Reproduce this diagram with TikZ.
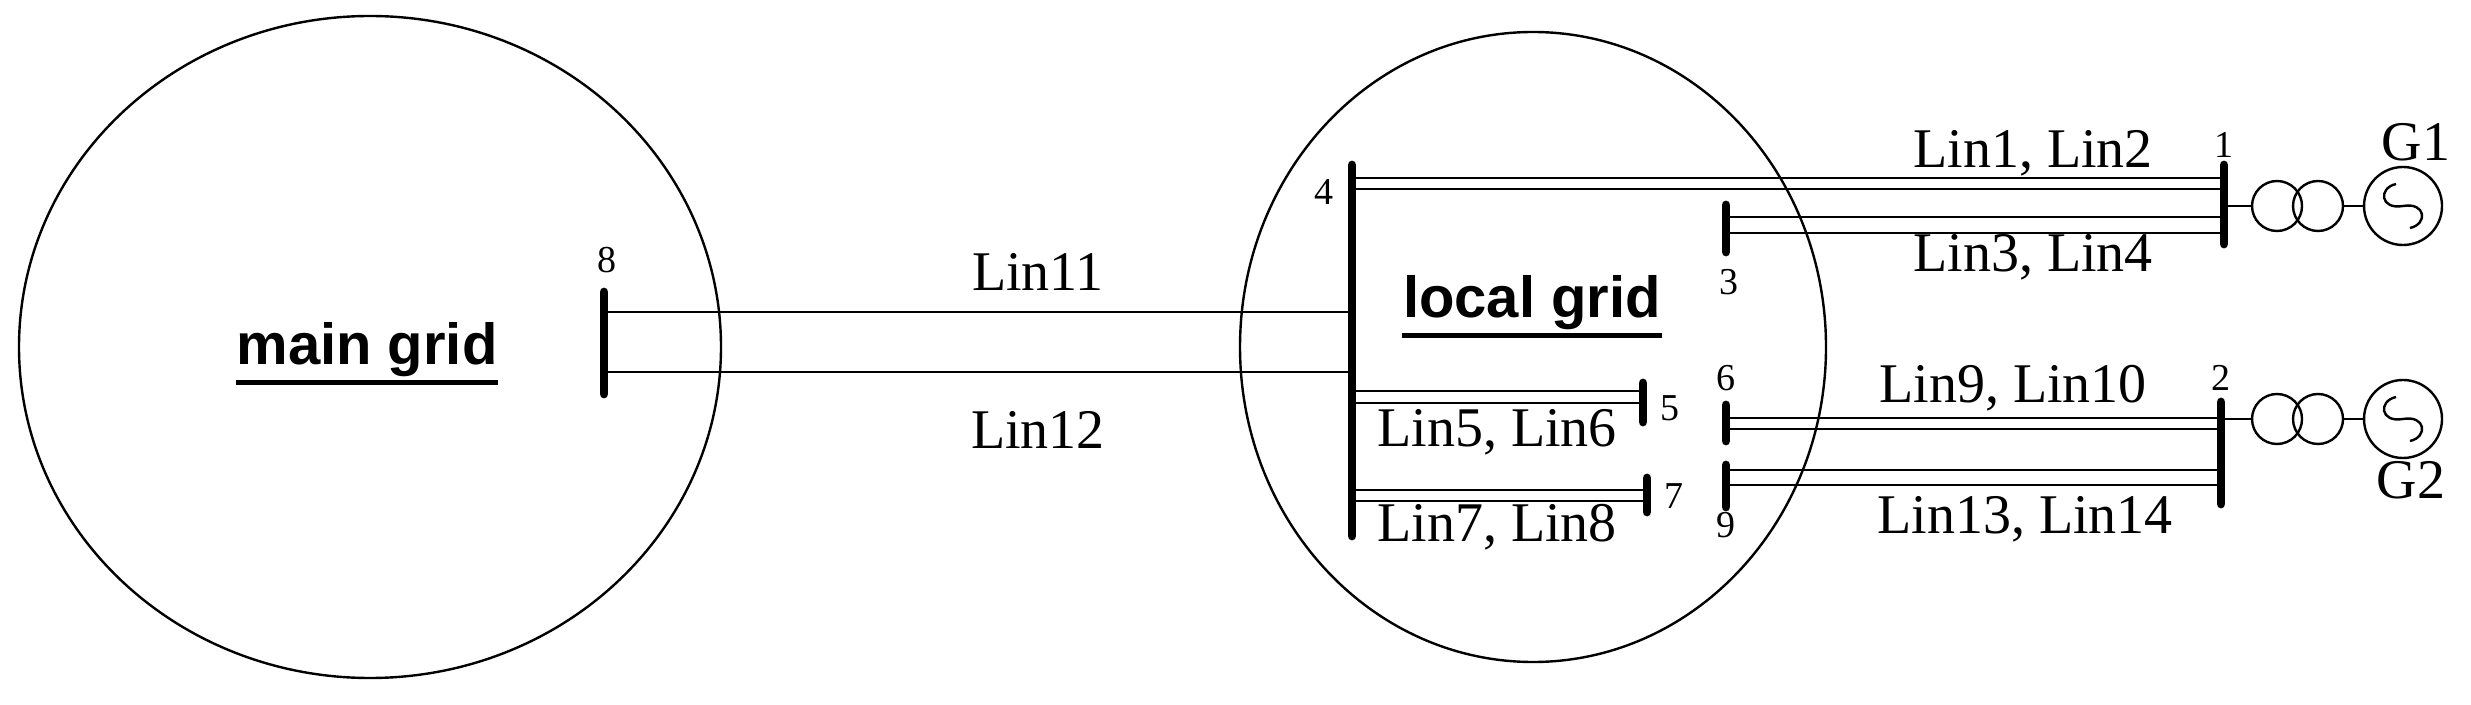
\documentclass[tikz,border=0pt]{standalone}
\usepackage{fontspec}
\setmainfont{Liberation Serif}
\newfontfamily\grid{Liberation Sans}
\begin{document}
\begin{tikzpicture}[x=0.25pt,y=-0.25pt,
  ln/.style={line width=0.6pt},
  bus/.style={line width=2.2pt,line cap=round},
  lab/.style={font=\fontsize{14}{16}\selectfont,inner sep=0},
  num/.style={font=\fontsize{9.5}{11}\selectfont,inner sep=0},
  gl/.style={font=\grid\bfseries\fontsize{14.5}{16}\selectfont,inner sep=0}]
\useasboundingbox (0,0) rectangle (2471,705);
% grids
\draw[ln] (370,347) ellipse [x radius=351,y radius=331];
\draw[ln] (1533,347) ellipse [x radius=293,y radius=315];
\node[gl] (mg) at (367,350) {main grid};
\draw[line width=1.2pt] ([yshift=-1.2pt]mg.south west) -- ([yshift=-1.2pt]mg.south east);
\node[gl] (lg) at (1532,303) {local grid};
\draw[line width=1.2pt] ([yshift=-1.2pt]lg.south west) -- ([yshift=-1.2pt]lg.south east);
% buses
\coordinate (b8t) at (604,292); \coordinate (b8b) at (604,394);
\coordinate (b4t) at (1352,165); \coordinate (b4b) at (1352,536);
\coordinate (b1t) at (2224,165); \coordinate (b1b) at (2224,244);
\coordinate (b3t) at (1726,205); \coordinate (b3b) at (1726,252);
\coordinate (b5t) at (1643,383); \coordinate (b5b) at (1643,422);
\coordinate (b7t) at (1647,478); \coordinate (b7b) at (1647,512);
\coordinate (b6t) at (1726,405); \coordinate (b6b) at (1726,441);
\coordinate (b9t) at (1726,465); \coordinate (b9b) at (1726,507);
\coordinate (b2t) at (2221,402); \coordinate (b2b) at (2221,504);
\foreach \b in {8,4,1,3,5,7,6,9,2} \draw[bus] (b\b t) -- (b\b b);
% lines
\draw[ln] (604,312) -- (1352,312);
\draw[ln] (604,372) -- (1352,372);
\draw[ln] (1352,178) -- (2224,178); \draw[ln] (1352,189) -- (2224,189);
\draw[ln] (1726,217) -- (2224,217); \draw[ln] (1726,233) -- (2224,233);
\draw[ln] (1352,391) -- (1643,391); \draw[ln] (1352,403) -- (1643,403);
\draw[ln] (1352,490) -- (1647,490); \draw[ln] (1352,501) -- (1647,501);
\draw[ln] (1726,418) -- (2221,418); \draw[ln] (1726,429) -- (2221,429);
\draw[ln] (1726,470) -- (2221,470); \draw[ln] (1726,485) -- (2221,485);
% transformers and generators
\foreach \y/\xb in {206/2224, 419/2221}{
  \draw[ln] (\xb,\y) -- (2252,\y);
  \draw[ln] (2277,\y) circle (25);
  \draw[ln] (2318,\y) circle (25);
  \draw[ln] (2343,\y) -- (2364,\y);
  \draw[ln] (2403,\y) circle (39);
  \draw[ln] (2396,\y-22) .. controls (2378,\y-18) and (2380,\y+4) .. (2403,\y)
            .. controls (2426,\y-4) and (2428,\y+18) .. (2410,\y+22);
}
% labels
\node[lab] at (2416,142) {G1};
\node[lab] at (2411,480) {G2};
\node[num] at (607,260) {8};
\node[num] at (1324,192) {4};
\node[num] at (2224,145) {1};
\node[num] at (1729,282) {3};
\node[num] at (1670,408) {5};
\node[num] at (1674,496) {7};
\node[num] at (1726,378) {6};
\node[num] at (2221,378) {2};
\node[num] at (1726,525) {9};
\node[lab] at (1038,272) {Lin11};
\node[lab] at (1038,430) {Lin12};
\node[lab] at (2033,153) {Lin1, Lin2};
\node[lab] at (2033,257) {Lin3, Lin4};
\node[lab] at (1497,432) {Lin5, Lin6};
\node[lab] at (1497,527) {Lin7, Lin8};
\node[lab] at (2013,388) {Lin9, Lin10};
\node[lab] at (2025,519) {Lin13, Lin14};
\end{tikzpicture}
\end{document}
